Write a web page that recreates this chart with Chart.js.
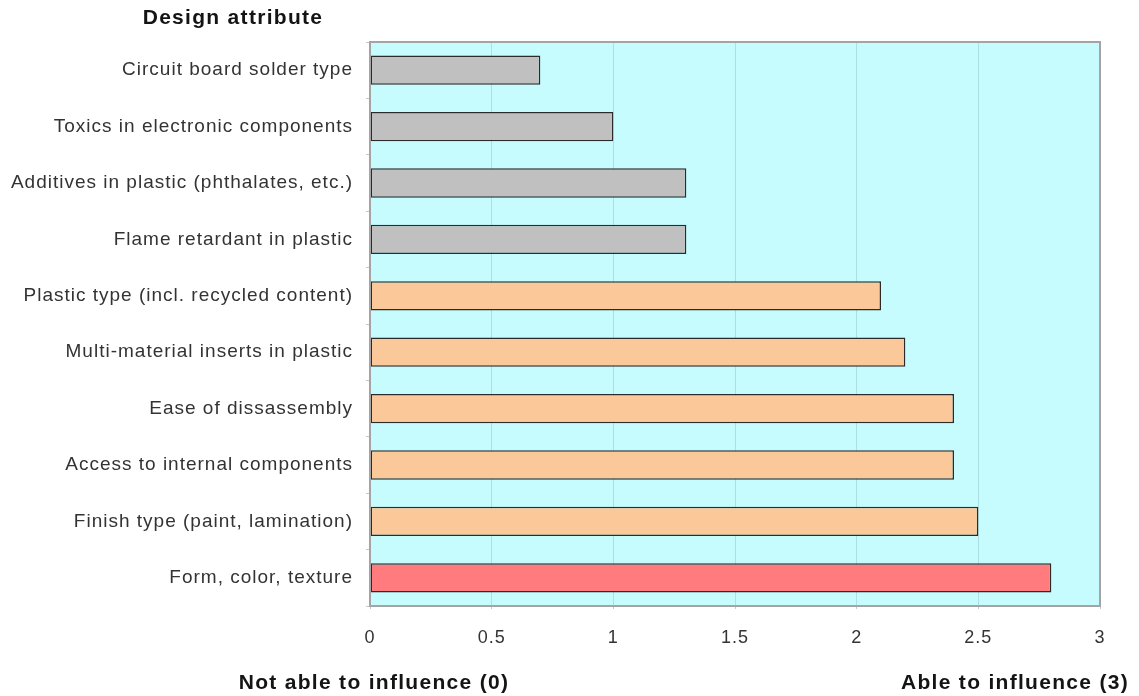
<!DOCTYPE html>
<html>
<head>
<meta charset="utf-8">
<script src="https://cdn.jsdelivr.net/npm/chart.js@4.4.0/dist/chart.umd.min.js"></script>
<style>
  html, body { margin: 0; padding: 0; background: #fff; }
  #wrap { width: 1139px; height: 696px; position: relative; }
</style>
</head>
<body>
<div id="wrap"><canvas id="chart"></canvas></div>
<script>
// Design attributes, top to bottom
const attributes = [
  'Circuit board solder type',
  'Toxics in electronic components',
  'Additives in plastic (phthalates, etc.)',
  'Flame retardant in plastic',
  'Plastic type (incl. recycled content)',
  'Multi-material inserts in plastic',
  'Ease of dissassembly',
  'Access to internal components',
  'Finish type (paint, lamination)',
  'Form, color, texture',
];
// Ability to influence (0-3)
const influence = [0.7, 1.0, 1.3, 1.3, 2.1, 2.2, 2.4, 2.4, 2.5, 2.8];
const barColors = [
  '#c0c0c0', '#c0c0c0', '#c0c0c0', '#c0c0c0',
  '#fbc999', '#fbc999', '#fbc999', '#fbc999', '#fbc999',
  '#ff7b7e',
];
const yTitle = 'Design attribute';
const xTitleLeft = 'Not able to influence (0)';
const xTitleRight = 'Able to influence (3)';

const FONT = '"Liberation Sans", Arial, sans-serif';

// Plot background, frame and the three bold captions
const decor = {
  id: 'decor',
  beforeDraw(chart) {
    const { ctx, chartArea: a } = chart;
    ctx.letterSpacing = '1px'; // the source text is set wide
    ctx.save();
    ctx.fillStyle = '#c6fcfe';
    ctx.fillRect(a.left, a.top, a.right - a.left, a.bottom - a.top);
    ctx.restore();
  },
  afterDraw(chart) {
    const { ctx, chartArea: a } = chart;
    ctx.save();
    ctx.strokeStyle = '#a4a4a4';
    ctx.lineWidth = 2;
    ctx.strokeRect(a.left, a.top, a.right - a.left, a.bottom - a.top);
    ctx.fillStyle = '#141414';
    ctx.font = 'bold 21px ' + FONT;
    ctx.letterSpacing = '1.3px';
    ctx.textBaseline = 'middle';
    ctx.textAlign = 'center';
    ctx.fillText(yTitle, 233, 18);
    ctx.fillText(xTitleLeft, 374, 683);
    ctx.textAlign = 'right';
    ctx.fillText(xTitleRight, 1129, 683);
    ctx.restore();
  },
};

new Chart(document.getElementById('chart'), {
  type: 'bar',
  data: {
    labels: attributes,
    datasets: [{
      data: influence,
      backgroundColor: barColors,
      borderColor: '#2b2b2b',
      borderWidth: 1.5,
      borderSkipped: false,
      barPercentage: 0.52,
      categoryPercentage: 1,
    }],
  },
  options: {
    indexAxis: 'y',
    responsive: true,
    maintainAspectRatio: false,
    animation: false,
    layout: { padding: { top: 42, right: 39, bottom: 0, left: 0 } },
    plugins: { legend: { display: false }, tooltip: { enabled: false } },
    scales: {
      x: {
        min: 0,
        max: 3,
        ticks: {
          stepSize: 0.5,
          color: '#333',
          font: { family: FONT, size: 18 },
          padding: 18,
          callback: (v) => String(v),
        },
        grid: { color: '#ade0e5', lineWidth: 1, tickLength: 3, tickColor: '#c8c8c8' },
        border: { display: false },
        afterFit(scale) { scale.height = 90; },
      },
      y: {
        ticks: { color: '#333', font: { family: FONT, size: 19 }, padding: 13 },
        grid: { drawOnChartArea: false, tickLength: 4, color: '#c8c8c8' },
        border: { display: false },
        afterFit(scale) { scale.width = 370; },
      },
    },
  },
  plugins: [decor],
});
</script>
</body>
</html>
